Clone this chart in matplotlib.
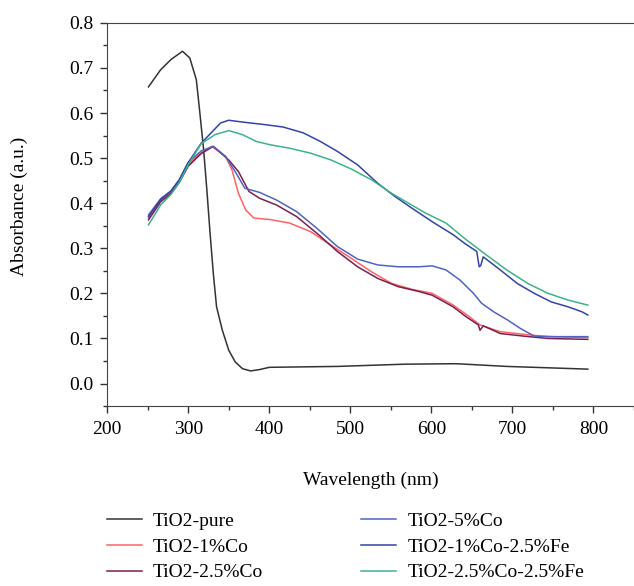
import matplotlib.pyplot as plt
from matplotlib.ticker import MultipleLocator

plt.rcParams['font.family'] = ['Liberation Serif', 'DejaVu Serif']

# values (wavelength in nm, absorbance in a.u.)
wl_pure = [251, 266, 279, 293, 302, 310, 314, 319, 323, 327, 331, 335, 342,
           350, 358, 367, 377, 388, 400, 484, 568, 631, 693, 793]
abs_pure = [0.658, 0.696, 0.719, 0.737, 0.722, 0.674, 0.607, 0.519, 0.43,
            0.333, 0.244, 0.17, 0.119, 0.074, 0.048, 0.033, 0.028, 0.031,
            0.036, 0.038, 0.043, 0.044, 0.038, 0.032]

wl_1co = [251, 266, 279, 289, 300, 316, 329, 346, 354, 362, 371, 381, 400,
          425, 451, 476, 501, 526, 551, 576, 601, 627, 647, 660, 685, 715,
          744, 793]
abs_1co = [0.367, 0.405, 0.424, 0.448, 0.485, 0.512, 0.526, 0.504, 0.474,
           0.422, 0.385, 0.367, 0.364, 0.356, 0.337, 0.307, 0.278, 0.248,
           0.222, 0.209, 0.2, 0.174, 0.148, 0.13, 0.115, 0.109, 0.104, 0.102]

wl_25co = [251, 266, 279, 289, 300, 316, 331, 350, 362, 375, 388, 409, 434,
           459, 484, 509, 534, 559, 585, 601, 627, 643, 658, 660, 664, 685,
           715, 744, 793]
abs_25co = [0.363, 0.403, 0.422, 0.446, 0.482, 0.51, 0.526, 0.496, 0.47,
            0.426, 0.411, 0.396, 0.37, 0.333, 0.293, 0.259, 0.233, 0.215,
            0.204, 0.196, 0.17, 0.148, 0.13, 0.118, 0.128, 0.111, 0.105,
            0.1, 0.098]

wl_5co = [251, 266, 279, 289, 300, 316, 331, 346, 358, 370, 388, 409, 434,
          459, 484, 509, 534, 559, 585, 601, 618, 635, 652, 662, 677, 694,
          710, 727, 756, 793]
abs_5co = [0.374, 0.41, 0.428, 0.452, 0.49, 0.516, 0.526, 0.504, 0.47,
           0.433, 0.424, 0.407, 0.381, 0.344, 0.304, 0.276, 0.263, 0.259,
           0.259, 0.261, 0.252, 0.23, 0.2, 0.178, 0.159, 0.141, 0.122,
           0.105, 0.104, 0.104]

wl_1co_fe = [251, 266, 279, 289, 300, 316, 340, 350, 367, 396, 417, 442,
             463, 484, 509, 534, 555, 576, 601, 627, 641, 656, 659, 661,
             664, 685, 706, 727, 748, 769, 786, 793]
abs_1co_fe = [0.37, 0.408, 0.427, 0.452, 0.49, 0.533, 0.578, 0.584, 0.58,
              0.574, 0.569, 0.556, 0.537, 0.515, 0.485, 0.444, 0.415, 0.389,
              0.359, 0.33, 0.311, 0.293, 0.259, 0.262, 0.281, 0.252, 0.222,
              0.2, 0.181, 0.17, 0.159, 0.152]

wl_25co_fe = [251, 266, 279, 289, 300, 316, 333, 350, 367, 384, 400, 425,
              451, 476, 501, 526, 551, 568, 593, 618, 643, 668, 693, 719,
              744, 769, 793]
abs_25co_fe = [0.352, 0.396, 0.42, 0.446, 0.485, 0.532, 0.552, 0.561,
               0.552, 0.537, 0.53, 0.522, 0.511, 0.496, 0.476, 0.452, 0.422,
               0.404, 0.378, 0.356, 0.319, 0.285, 0.252, 0.222, 0.2, 0.185,
               0.174]

series = [
    ('TiO2-pure', wl_pure, abs_pure, '#333333'),
    ('TiO2-1%Co', wl_1co, abs_1co, '#ff6262'),
    ('TiO2-2.5%Co', wl_25co, abs_25co, '#7a1f4f'),
    ('TiO2-5%Co', wl_5co, abs_5co, '#4f64c0'),
    ('TiO2-1%Co-2.5%Fe', wl_1co_fe, abs_1co_fe, '#3443a8'),
    ('TiO2-2.5%Co-2.5%Fe', wl_25co_fe, abs_25co_fe, '#3cb38a'),
]

fig = plt.figure(figsize=(6.34, 5.86), dpi=100)
ax = fig.add_axes([0.169, 0.307, 0.831, 0.654])

for name, x, y, c in series:
    ax.plot(x, y, color=c, lw=1.1, label=name)

ax.set_xlim(200, 850)
ax.set_ylim(-0.05, 0.8)
ax.xaxis.set_major_locator(MultipleLocator(100))
ax.xaxis.set_minor_locator(MultipleLocator(50))
ax.yaxis.set_major_locator(MultipleLocator(0.1))
ax.yaxis.set_minor_locator(MultipleLocator(0.05))
ax.yaxis.set_major_formatter(plt.FormatStrFormatter('%.1f'))
ax.tick_params(which='both', direction='out', labelsize=14, width=1, color='#333333')
ax.tick_params(which='major', length=5)
ax.tick_params(which='minor', length=3)
ax.tick_params(axis='x', pad=6)
ax.tick_params(axis='y', pad=5)
ax.spines['right'].set_visible(False)
for s in ['left', 'top', 'bottom']:
    ax.spines[s].set_color('#444444')

ax.set_xlabel('Wavelength (nm)', fontsize=14)
ax.set_ylabel('Absorbance (a.u.)', fontsize=14)
ax.xaxis.set_label_coords(0.5, -0.172)
ax.yaxis.set_label_coords(-0.15, 0.52)

fig.legend(loc='upper left', bbox_to_anchor=(0.168, 0.126), ncol=2,
           frameon=False, fontsize=14, handlelength=1.8, handletextpad=0.6,
           columnspacing=5.0, labelspacing=0.42, borderpad=0, borderaxespad=0)

fig.savefig('out.png', dpi=100)
